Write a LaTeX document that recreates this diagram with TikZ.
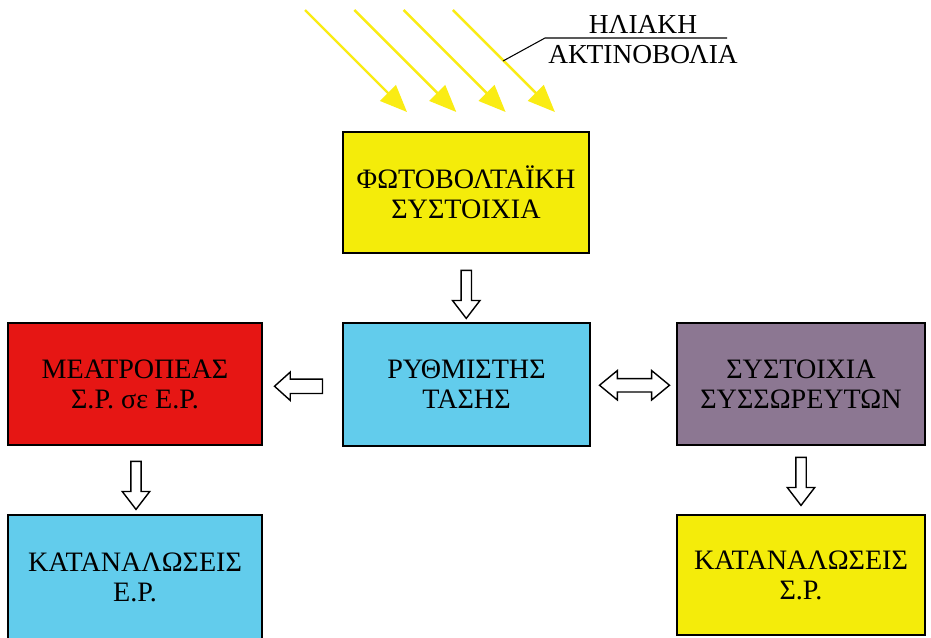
\documentclass[tikz,border=0pt]{standalone}
\usepackage{fontspec}
\setmainfont{Liberation Serif}
\usetikzlibrary{shapes.arrows,arrows.meta,calc}

\definecolor{pvyellow}{RGB}{244,236,10}
\definecolor{regblue}{RGB}{98,204,236}
\definecolor{convred}{RGB}{230,22,20}
\definecolor{batmauve}{RGB}{140,119,146}
\definecolor{raycol}{RGB}{250,236,20}

\tikzset{
  block/.style={draw=black,line width=1.2pt,align=center,inner sep=0pt,
    font=\fontsize{16}{17.2}\selectfont},
  hollowdown/.style={single arrow,draw=black,fill=white,line width=0.8pt,
    inner xsep=0pt,inner ysep=0.09cm,single arrow head extend=0.17cm,
    single arrow tip angle=75,minimum height=0.96cm,rotate=-90},
  hollowleft/.style={single arrow,draw=black,fill=white,line width=0.8pt,
    inner xsep=0pt,inner ysep=0.13cm,single arrow head extend=0.14cm,
    single arrow tip angle=84,minimum height=0.96cm,rotate=180},
  hollowboth/.style={double arrow,draw=black,fill=white,line width=0.8pt,
    inner xsep=0pt,inner ysep=0.12cm,double arrow head extend=0.16cm,
    double arrow tip angle=79,minimum height=1.4cm},
  ray/.style={raycol,line width=1.4pt,-{Triangle[length=0.54cm,width=0.44cm]}}
}

\begin{document}
\begin{tikzpicture}[x=0.02cm,y=-0.02cm]
\clip (0,0) rectangle (931,637);
\fill[white] (0,0) rectangle (931,637);

% sunlight
\foreach \i in {0,...,3}
  \draw[ray] ({305+49.3*\i},10) -- ({407+49.3*\i},112);
\coordinate (lead) at (503,61);
\draw[line width=0.6pt] (lead) -- (545,38) -- (727,38);
\node[anchor=base,font=\fontsize{15.6}{17}\selectfont] (sun1) at (643,33) {ΗΛΙΑΚΗ};
\node[anchor=base,font=\fontsize{15.6}{17}\selectfont] (sun2) at (643,63) {ΑΚΤΙΝΟΒΟΛΙΑ};

% blocks
\node[block,fill=pvyellow,minimum width=4.92cm,minimum height=2.42cm] (pv) at (466,192.5) {ΦΩΤΟΒΟΛΤΑΪΚΗ\\ΣΥΣΤΟΙΧΙΑ};
\node[block,fill=regblue,minimum width=4.94cm,minimum height=2.46cm] (reg) at (466.5,384.5) {ΡΥΘΜΙΣΤΗΣ\\ΤΑΣΗΣ};
\node[block,fill=convred,minimum width=5.08cm,minimum height=2.44cm] (conv) at (135,384) {ΜΕΑΤΡΟΠΕΑΣ\\Σ.Ρ. σε Ε.Ρ.};
\node[block,fill=batmauve,minimum width=4.96cm,minimum height=2.44cm] (bat) at (801,384) {ΣΥΣΤΟΙΧΙΑ\\ΣΥΣΣΩΡΕΥΤΩΝ};
\node[block,fill=regblue,minimum width=5.08cm,minimum height=2.48cm] (loadac) at (135,577) {ΚΑΤΑΝΑΛΩΣΕΙΣ\\Ε.Ρ.};
\node[block,fill=pvyellow,minimum width=4.96cm,minimum height=2.4cm] (loaddc) at (801,575) {ΚΑΤΑΝΑΛΩΣΕΙΣ\\Σ.Ρ.};

% flow arrows
\node[hollowdown] (a1) at ($(pv.south)!0.5!(reg.north)+(0,3)$) {};
\node[hollowleft] (a2) at ($(conv.east)!0.5!(reg.west)+(0,2)$) {};
\node[hollowboth] (a3) at ($(reg.east)!0.5!(bat.west)+(1,1)$) {};
\node[hollowdown] (a4) at ($(conv.south)!0.5!(loadac.north)+(1,2)$) {};
\node[hollowdown] (a5) at ($(bat.south)!0.5!(loaddc.north)+(0,-2)$) {};
\end{tikzpicture}
\end{document}
